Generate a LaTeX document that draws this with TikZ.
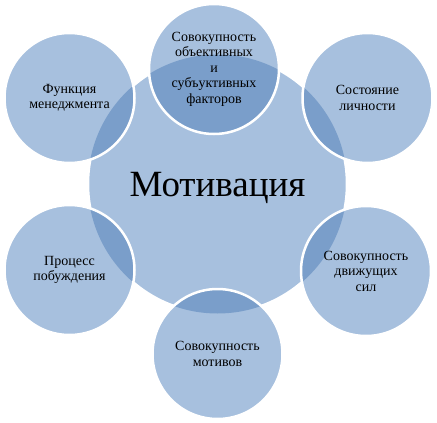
\documentclass[tikz,border=0pt]{standalone}
\usepackage{fontspec}
\setmainfont{Liberation Serif}
\newfontfamily\motfont{Liberation Serif}
\definecolor{motfill}{RGB}{167,192,222}
\definecolor{motdark}{RGB}{122,158,202}

\begin{document}
\begin{tikzpicture}[x=1pt,y=-1pt]
  \useasboundingbox (0,0) rectangle (437,423);

  \node[circle, fill=motfill, draw=white, line width=2.5pt, minimum size=259pt,
        inner sep=0pt, text depth=0pt, font=\motfont\fontsize{37}{40}\selectfont] (0) at (217.5,184) {Мотивация};

  \begin{scope}[every node/.style={circle, fill=motfill, draw=white, line width=2.5pt,
      minimum size=130pt, inner sep=0pt, align=center, font=\motfont\fontsize{14}{15.5}\selectfont,
      path picture={\fill[motdark] (0.center) circle[radius=129.5pt];}}]
    \node (1) at (214,69)    {Совокупность\\объективных\\и\\субъуктивных\\факторов};
    \node (2) at (367.5,98)  {Состояние\\личности};
    \node (3) at (366,271)   {Совокупность\\движущих\\сил};
    \node (4) at (217.5,354) {Совокупность\\мотивов};
    \node (5) at (69.5,270)  {Процесс\\побуждения};
    \node (6) at (69.5,98)   {Функция\\менеджмента};
  \end{scope}

\end{tikzpicture}
\end{document}
